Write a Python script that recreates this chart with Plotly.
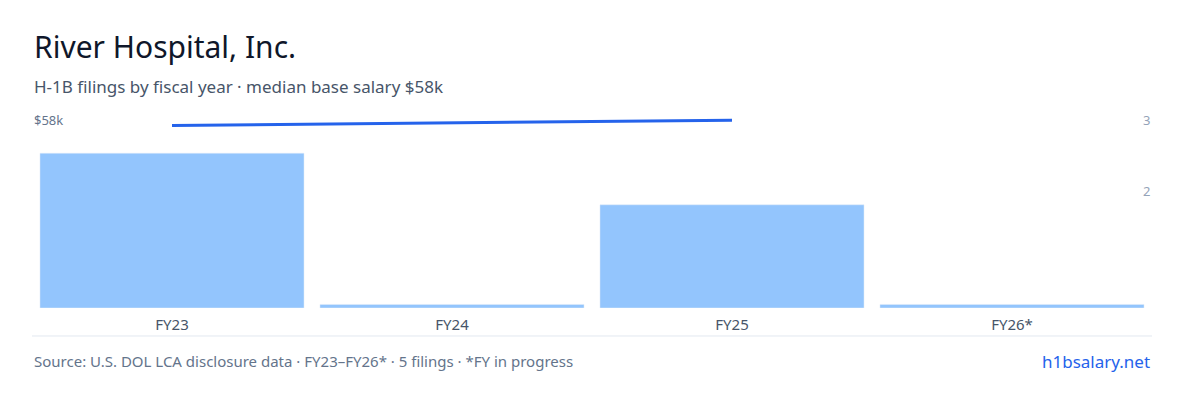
import plotly.graph_objects as go

years = ["FY23", "FY24", "FY25", "FY26*"]
filings = [3, 0, 2, 0]
line_years = ["FY23", "FY24", "FY25"]
median_salary_k = [57.5, 57.75, 58.0]

stub = 0.07
bar_vals = [v if v > 0 else stub for v in filings]

T, B = 107, 100
fig = go.Figure()
fig.add_bar(x=years, y=bar_vals, marker_color="#93c5fd", hoverinfo="skip", yaxis="y")
fig.add_scatter(x=line_years, y=median_salary_k, mode="lines",
                line=dict(color="#2563eb", width=3), yaxis="y2")

fig.update_layout(
    width=1200, height=400, margin=dict(l=24, r=56, t=T, b=B),
    paper_bgcolor="white", plot_bgcolor="white", showlegend=False, bargap=0.057,
    font=dict(family="Noto Sans", color="#475569"),
    xaxis=dict(showline=False, ticks="", tickfont=dict(size=15, color="#475569"), ticklabelstandoff=6),
    yaxis=dict(range=[0, 3.74], showticklabels=False, showgrid=False, zeroline=False),
    yaxis2=dict(range=[40, 58.5], overlaying="y", showticklabels=False, showgrid=False, zeroline=False),
)
fig.add_shape(type="line", xref="paper", yref="paper", x0=0, x1=1, y0=-0.145, y1=-0.145,
              line=dict(color="#e2e8f0", width=1))
anns = [
    dict(x=0, y=38, text="River Hospital, Inc.", size=30, color="#0f172a", xanchor="left"),
    dict(x=0, y=79, text="H-1B filings by fiscal year · median base salary $58k", size=17, color="#475569", xanchor="left"),
    dict(x=0, y=112, text="$58k", size=13, color="#64748b", xanchor="left"),
    dict(x=1, y=112, text="3", size=13, color="#94a3b8", xanchor="right"),
    dict(x=1, y=183, text="2", size=13, color="#94a3b8", xanchor="right"),
    dict(x=0, y=353, text="Source: U.S. DOL LCA disclosure data · FY23–FY26* · 5 filings · *FY in progress", size=15, color="#64748b", xanchor="left"),
    dict(x=1, y=353, text="h1bsalary.net", size=17, color="#2563eb", xanchor="right"),
]
H = 400 - T - B
for a in anns:
    fig.add_annotation(x=a["x"], xref="paper", y=(400 - B - a["y"]) / H, yref="paper",
                       yanchor="middle", xanchor=a["xanchor"], showarrow=False,
                       text=a["text"], font=dict(size=a["size"], color=a["color"]))
fig.write_html("out.html")
